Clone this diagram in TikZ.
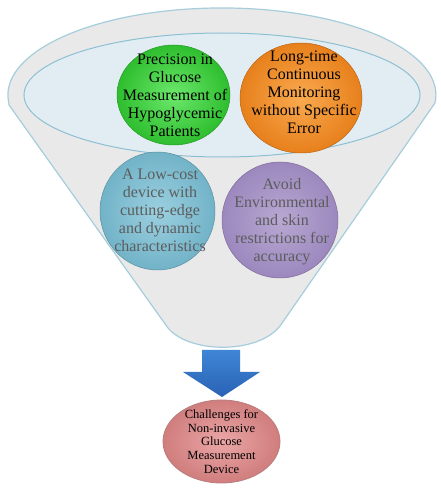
\documentclass[tikz,border=0pt]{standalone}
\usepackage{fontspec}
\setmainfont{Liberation Serif}
\usetikzlibrary{shapes.geometric}
\definecolor{funnelfill}{HTML}{E9E9E9}
\definecolor{funnelline}{HTML}{A6CDDC}
\definecolor{rimfill}{HTML}{E2EDF3}
\definecolor{rimline}{HTML}{8DBFD2}
\definecolor{greenA}{HTML}{6CE86C}
\definecolor{greenB}{HTML}{2EBE2E}
\definecolor{orangeA}{HTML}{FAAA50}
\definecolor{orangeB}{HTML}{E7801C}
\definecolor{blueA}{HTML}{9BD0E0}
\definecolor{blueB}{HTML}{72B3C8}
\definecolor{purpA}{HTML}{B8A8D2}
\definecolor{purpB}{HTML}{9C88BE}
\definecolor{pinkA}{HTML}{EBA6A6}
\definecolor{pinkB}{HTML}{D07D7D}
\definecolor{arrowA}{HTML}{3F86D6}
\definecolor{arrowB}{HTML}{2A62B4}
\definecolor{fadedtext}{HTML}{5C5C5C}
\tikzset{
  blob/.style={ellipse, inner sep=0pt, draw=#1!80!black, line width=0.5pt},
  bigtxt/.style={align=center, inner sep=0pt, font=\fontsize{16}{18}\selectfont},
  smalltxt/.style={align=center, inner sep=0pt, font=\fontsize{12.5}{13.6}\selectfont},
}
\begin{document}
\begin{tikzpicture}[x=1pt,y=1pt]
\useasboundingbox (0,0) rectangle (441,491);
\fill[white] (0,0) rectangle (441,491);
% funnel body
\draw[funnelline, line width=1.2pt, fill=funnelfill]
  (9,386) -- (168,163) .. controls (190,137) and (258,137) .. (280,165)
  -- (435,388) arc[start angle=-5.3, end angle=185.3, x radius=214, y radius=87] -- cycle;
% inner rim
\draw[rimline, line width=1pt, fill=rimfill] (222,396) ellipse [x radius=198, y radius=62];
% lower circles
\node[blob=blueB, minimum width=115pt, minimum height=118pt, inner color=blueA, outer color=blueB] (blue) at (157.5,280) {};
\node[bigtxt, text=fadedtext] (blueT) at (160,281) {A Low-cost\\device with\\cutting-edge\\and dynamic\\characteristics};
\node[blob=purpB, minimum width=116pt, minimum height=116pt, inner color=purpA, outer color=purpB] (purple) at (280,271) {};
\node[bigtxt, text=fadedtext] (purpleT) at (282,269) {Avoid\\Environmental\\and skin\\restrictions for\\accuracy};
% upper circles
\node[blob=greenB, minimum width=113pt, minimum height=100pt, inner color=greenA, outer color=greenB] (green) at (173.5,396) {};
\node[bigtxt] (greenT) at (175,396) {Precision in\\Glucose\\Measurement of\\Hypoglycemic\\Patients};
\node[blob=orangeB, minimum width=122pt, minimum height=110pt, inner color=orangeA, outer color=orangeB] (orange) at (301,393) {};
\node[bigtxt] (orangeT) at (304,399) {Long-time\\Continuous\\Monitoring\\without Specific\\Error};
% arrow
\shade[top color=arrowA, bottom color=arrowB]
  (202,141) -- (240,141) -- (240,119) -- (260,119) -- (222,94) -- (183,119) -- (202,119) -- cycle;
% result ellipse
\node[ellipse, inner sep=0pt, draw=pinkB!70!gray, line width=0.8pt, minimum width=117pt, minimum height=83pt, inner color=pinkA, outer color=pinkB] (result) at (221.5,49.5) {};
\node[smalltxt] (resultT) at (221.5,49.5) {Challenges for\\Non-invasive\\Glucose\\Measurement\\Device};
\end{tikzpicture}
\end{document}
